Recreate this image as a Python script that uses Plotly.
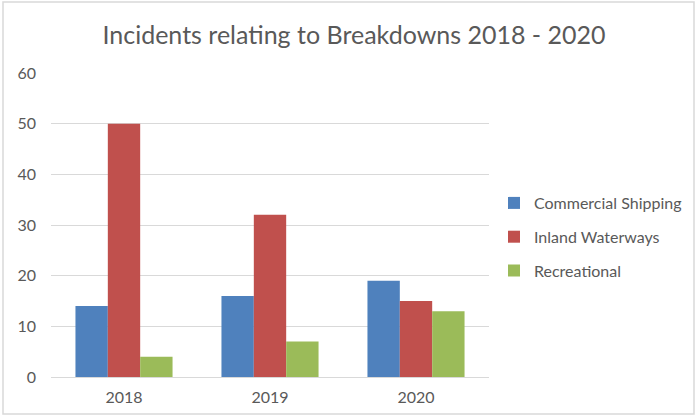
import plotly.graph_objects as go

years = ["2018", "2019", "2020"]
commercial = [14, 16, 19]
inland = [50, 32, 15]
recreational = [4, 7, 13]
series_names = ["Commercial Shipping", "Inland Waterways", "Recreational"]
colors = ["#4F81BD", "#C0504D", "#9BBB59"]

W, H = 697, 418
L, R, T, B = 51, 208, 73, 41
pw, ph = W - L - R, H - T - B

fig = go.Figure()
for i, (name, vals) in enumerate(zip(series_names, [commercial, inland, recreational])):
    fig.add_trace(go.Bar(x=years, y=vals, name=name, marker_color=colors[i],
                         marker_line_width=0, legendgroup=str(i)))

def px_x(p):
    return (p - L) / pw

def px_y(p):
    return (H - B - p) / ph

fig.update_layout(
    width=W, height=H,
    margin=dict(l=L, r=R, t=T, b=B, autoexpand=False),
    paper_bgcolor="white", plot_bgcolor="white",
    font=dict(family="Lato", color="#595959", size=16),
    title=dict(text="Incidents relating to Breakdowns 2018 - 2020",
               x=354 / W, xanchor="center", y=1 - 35 / H, yanchor="middle",
               font=dict(size=25, color="#595959", family="Lato")),
    barmode="group", bargap=0.335, bargroupgap=0,
    legend=dict(x=px_x(494), xanchor="left", y=px_y(237), yanchor="middle",
                font=dict(size=16, color="#595959"), tracegroupgap=10,
                itemwidth=30,
                traceorder="grouped", bgcolor="rgba(0,0,0,0)"),
    xaxis=dict(showgrid=False, showline=True, linecolor="#D9D9D9", linewidth=1,
               ticks="", tickfont=dict(size=16), ticklabelstandoff=6),
    yaxis=dict(range=[0, 60], dtick=10, showgrid=True, gridcolor="#D9D9D9",
               gridwidth=1, zeroline=False, ticks="", ticklabelstandoff=14,
               tickfont=dict(size=16)),
    shapes=[dict(type="rect", xref="paper", yref="paper",
                 x0=px_x(3), x1=px_x(694), y0=px_y(414), y1=px_y(2),
                 line=dict(color="#D9D9D9", width=1.5), layer="below")],
)

fig.write_html("out.html")
